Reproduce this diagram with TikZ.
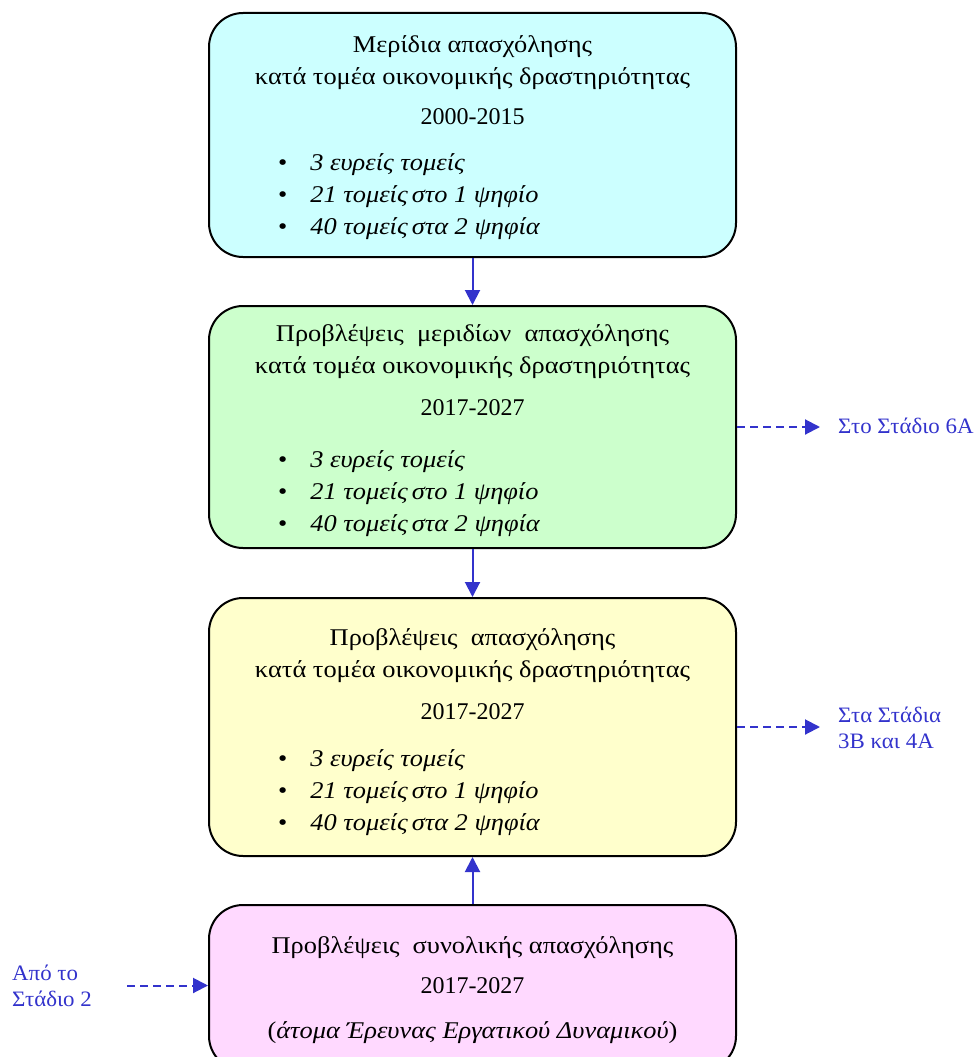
\documentclass[tikz,border=0pt]{standalone}
\usepackage{fontspec}
\setmainfont{Liberation Serif}
\newfontfamily\grk[FakeStretch=1.1]{Liberation Serif}
\newfontfamily\grklbl[FakeStretch=1.04]{Liberation Serif}
\usetikzlibrary{arrows.meta,positioning}

\definecolor{linkblue}{HTML}{3333CC}
\definecolor{sharesfill}{HTML}{CCFFFF}
\definecolor{forecastfill}{HTML}{CCFFCC}
\definecolor{employfill}{HTML}{FFFFCC}
\definecolor{totalfill}{HTML}{FFD9FF}

\newcommand{\yrs}[1]{{\rmfamily #1}}
\newcommand{\sectorlist}{%
  \begin{tabular}{@{}l@{\hspace{23pt}}l@{}}
    \textbullet & \textit{3 ευρείς τομείς}\\
    \textbullet & \textit{21 τομείς\,στο 1 ψηφίο}\\
    \textbullet & \textit{40 τομείς\,στα 2 ψηφία}
  \end{tabular}}

\begin{document}
\begin{tikzpicture}[
    x=1pt, y=-1pt,
    >={Triangle[length=15pt,width=15pt]},
    box/.style={draw, line width=2pt, rounded corners=34pt, fill=#1,
                minimum width=527pt, inner sep=0pt},
    txt/.style={font=\fontsize{24}{32}\grk, align=center, inner sep=0pt},
    lst/.style={font=\fontsize{24}{32}\grk, inner sep=0pt, anchor=west},
    lbl/.style={font=\fontsize{22}{26}\grklbl, text=linkblue, align=left,
                inner sep=0pt},
    arr/.style={->, line width=2pt, draw=linkblue},
    dasharr/.style={arr, dash pattern=on 8pt off 5pt},
  ]
  \clip (0,0) rectangle (974,1057);

  % boxes
  \node[box=sharesfill, minimum height=244pt] (shares) at (472.5,135) {};
  \node[box=forecastfill, minimum height=242pt] (sharesfc) at (472.5,427) {};
  \node[box=employfill, minimum height=258pt] (employ) at (472.5,727) {};
  \node[box=totalfill, minimum height=165pt] (total) at (472.5,987.5) {};

  % box texts
  \node[txt] (sharesT) at (472.5,80) {Μερίδια απασχόλησης\\
    κατά τομέα οικονομικής δραστηριότητας\\[8pt] \yrs{2000-2015}};
  \node[lst] (sharesL) at (278,196) {\sectorlist};
  \node[txt] (sharesfcT) at (472.5,370) {Προβλέψεις \ μεριδίων \ απασχόλησης\\
    κατά τομέα οικονομικής δραστηριότητας\\[10pt] \yrs{2017-2027}};
  \node[lst] (sharesfcL) at (278,493) {\sectorlist};
  \node[txt] (employT) at (472.5,674) {Προβλέψεις \ απασχόλησης\\
    κατά τομέα οικονομικής δραστηριότητας\\[10pt] \yrs{2017-2027}};
  \node[lst] (employL) at (278,792) {\sectorlist};
  \node[txt] (totalT) at (472.5,990) {Προβλέψεις \ συνολικής απασχόλησης\\[8pt]
    \yrs{2017-2027}\\[13pt] (\textit{άτομα Έρευνας Εργατικού Δυναμικού})};

  % side labels
  \node[lbl, anchor=west] (toSix) at (838,426) {Στο Στάδιο 6Α};
  \node[lbl, anchor=west] (toThree) at (838,728) {Στα Στάδια\\3Β και 4Α};
  \node[lbl, anchor=west] (fromTwo) at (12,985.5) {Από το\\Στάδιο 2};

  \draw[arr] (shares) -- (sharesfc);
  \draw[arr] (sharesfc) -- (employ);
  \draw[arr] (total) -- (employ);
  \draw[dasharr, shorten >=18pt] (sharesfc.east) -- (sharesfc.east -| toSix.west);
  \draw[dasharr, shorten >=18pt] (employ.east) -- (employ.east -| toThree.west);
  \draw[dasharr, shorten <=35pt] (fromTwo.east) -- (fromTwo.east -| total.west);
\end{tikzpicture}
\end{document}
